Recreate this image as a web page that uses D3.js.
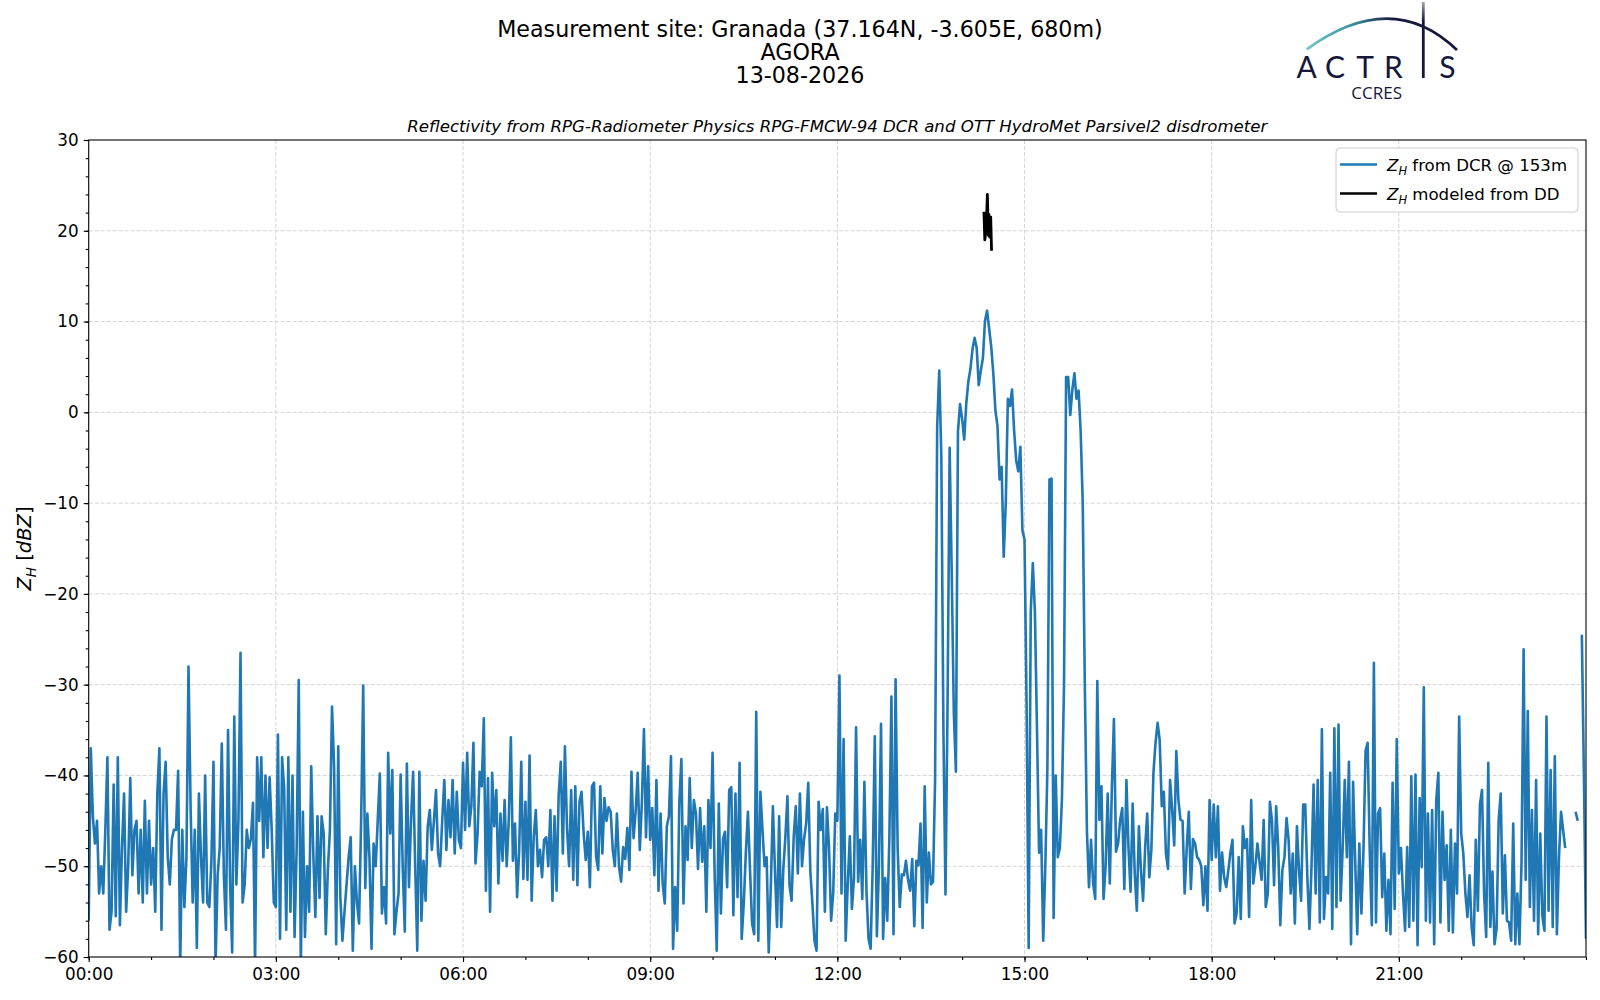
<!DOCTYPE html>
<html>
<head>
<meta charset="utf-8">
<script src="https://cdn.jsdelivr.net/npm/d3@7"></script>
<style>
  body { margin: 0; background: #fff; }
  svg { font-family: "DejaVu Sans", sans-serif; }
</style>
</head>
<body>
<svg width="1600" height="1000"></svg>
<script>
// DCR reflectivity at 153 m, one value every 2 minutes from 00:00 to 24:00 (null = no data)
const stepMin = 2
const dcrValues = [
  -56, -37, -44.5, -47.5, -45, -53, -50, -53, -46, -38,
  -57, -55, -41, -55.5, -38, -56.5, -48, -42, -55, -50,
  -40.3, -51, -46, -45, -53, -46, -54, -42.8, -53, -45,
  -52, -48, -55, -42, -37, -57, -42, -38.5, -49, -52,
  -47, -46, -46, -39.5, -61, -46, -54.5, -49, -28, -43.5,
  -54, -46, -59, -42, -49, -54, -40, -54, -54.5, -49.5,
  -38.5, -61, -51, -48, -36.5, -51, -57, -35, -52, -59.5,
  -33.5, -52, -45, -26.5, -54, -52, -46, -48, -47, -43,
  -61, -38, -45, -38, -49, -40, -48, -40.2, -46, -54,
  -54.5, -35.5, -58, -38, -41.5, -57, -38, -55, -40, -57.8,
  -48, -29.5, -61, -44, -57.8, -50, -55, -39, -48.6, -55.6,
  -44.5, -53.5, -44.5, -46.4, -57.5, -50.4, -46, -32.4, -39, -58.6,
  -36.8, -53.4, -58.2, -55, -52, -49, -46.8, -59.3, -50, -54,
  -56.3, -45, -30.1, -52.4, -44.2, -49, -59.1, -47.5, -50, -44.9,
  -39.8, -55.2, -52.3, -56.3, -37.5, -46.4, -39.4, -57.5, -55, -53,
  -39.9, -50, -57.2, -38.7, -52.3, -44.9, -39.6, -50, -59.3, -39.6,
  -56, -49.4, -53.8, -45.7, -43.8, -48.2, -45, -41.6, -48.6, -50,
  -44.9, -40.5, -48.2, -42.7, -46.8, -40.5, -48.6, -41.8, -47.1, -48,
  -38.6, -46, -37.5, -45.6, -43.4, -36.4, -49.7, -46.4, -39.6, -41.2,
  -33.7, -52.7, -40.3, -55, -39.7, -45.6, -41.6, -51.9, -44.2, -49.4,
  -42.7, -50, -44.9, -35.8, -49.4, -45.3, -53.4, -48.2, -38.5, -51.4,
  -42.9, -51.5, -37.8, -53.8, -46.8, -43.8, -50, -48.2, -51.2, -47.1,
  -46.8, -50, -43.8, -53.8, -44.5, -52.7, -42.1, -38.5, -48.6, -36.8,
  -45.8, -50, -41.6, -51.5, -41.2, -52.1, -42.9, -41.8, -46.4, -49.3,
  -46.2, -52.3, -41.2, -40.8, -49, -50.4, -41.2, -48.6, -42.5, -45,
  -43.5, -44, -48.2, -50, -44.2, -50, -51.7, -47.9, -49.2, -45.8,
  -50.4, -39.6, -46.9, -44, -39.7, -48.2, -43, -34.9, -46.8, -39,
  -47.1, -43.6, -51, -40.5, -52.7, -44.2, -51.9, -54.1, -45.6, -44.5,
  -37.9, -59.1, -52.3, -57.1, -43.1, -38.2, -54.1, -45.6, -49.3, -40.3,
  -48, -42.7, -44.2, -50.3, -43.6, -49.5, -45.6, -55, -42.7, -48,
  -37.5, -51, -59.3, -43.1, -55.2, -47, -46.2, -52.3, -41.6, -41.3,
  -55.4, -42, -53.4, -38.6, -58, -54.1, -48.5, -44, -50.4, -56.3,
  -57.5, -33, -58.2, -41.8, -46, -50, -49, -59.5, -52.3, -43.4,
  -50.5, -56.7, -44.5, -56.7, -50.4, -46.8, -42.3, -52.1, -53.8, -46.8,
  -43.4, -50.8, -42, -50, -47, -45.3, -40.8, -50.5, -54.1, -58.2,
  -59.3, -42.9, -46, -43.7, -55, -43.5, -48, -56, -53, -44.2,
  -45, -29, -53, -36, -58.2, -52, -46.7, -54.7, -51.3, -34.7,
  -51.7, -47.1, -53.6, -40.7, -52.7, -58, -59.1, -50, -35.7, -57.7,
  -50, -34.3, -58, -51.3, -56, -47, -31.3, -57.5, -29.4, -48.1,
  -54.5, -50.9, -51, -49.4, -51.5, -52.7, -49.2, -56.6, -49.4, -49.9,
  -45.3, -56.8, -41.2, -54, -48.5, -52, -51.7, -40.5, -1.6, 4.6,
  -4.9, -35, -53.1, -32, -3.9, -17.7, -33, -39.6, -2.1, 0.9,
  -0.7, -3, 1.0, 3.4, 4.8, 7, 8.2, 7.1, 3, 4.6,
  6, 10.1, 11.2, 9.2, 7.2, 4.3, 0.2, -1.5, -7.4, -6,
  -15.9, -9.9, 1.5, 0.7, 2.5, -2, -5.3, -6.5, -3.8, -13,
  -14, -32.4, -59, -22, -16.6, -22, -35, -48.5, -46, -58.2,
  -50, -39.3, -7.4, -7.3, -55.7, -40, -49, -48, -42.6, -30,
  3.9, 3.9, -0.3, 2.5, 4.3, 1.5, 2.4, -2.1, -10, -30,
  -46, -52.3, -47.1, -51.9, -53.6, -29.6, -44.9, -41.2, -53.6, -50,
  -42, -51.9, -41.4, -33.8, -48.4, -47.5, -44.9, -43.6, -52.5, -40.5,
  -48, -52.8, -43.1, -50.8, -54.9, -45.6, -50.5, -53.8, -48, -44.2,
  -51.2, -48.2, -39.7, -36.4, -34.2, -36.1, -43.4, -41.8, -48.6, -50.3,
  -40.5, -43.8, -47.7, -37.3, -42.7, -44.9, -45, -53, -48, -44,
  -52.5, -47, -47.5, -49, -49.3, -50, -54.3, -50, -54.9, -42.7,
  -49.3, -43.2, -49, -43.4, -52.7, -48.5, -51.2, -52.3, -50.5, -48.5,
  -47.1, -56.3, -55.2, -49, -55.8, -45.6, -48, -47, -55.6, -42.7,
  -51.9, -50, -47.5, -49.5, -51.5, -44.9, -54.5, -53, -42.9, -45,
  -52.1, -43.4, -47.9, -56.5, -50.4, -49, -44.7, -47.1, -53, -48.6,
  -56.3, -45.6, -50.5, -53.8, -43.2, -43.2, -51.2, -56.9, -50.1, -41,
  -53, -40.5, -56.2, -34.9, -55.8, -51.2, -53, -39.7, -56.9, -34.8,
  -54.5, -34.4, -53.8, -48, -40.5, -49, -38.5, -58.6, -40.7, -49.3,
  -57.5, -47.5, -55.2, -48.2, -37.3, -36.4, -48.2, -56.5, -27.6, -56.2,
  -44.2, -43.6, -53.4, -48.6, -57.1, -51.5, -57.5, -40.8, -54.7, -36,
  -50.8, -48, -53, -57.1, -47.9, -56.7, -40.1, -56, -39.9, -58.7,
  -42.5, -50.1, -30.3, -56, -44.2, -56.2, -43.8, -58.6, -42.7, -39.7,
  -56.2, -44, -51.5, -47.7, -57.1, -46, -57.3, -47.5, -53, -33.5,
  -46.4, -48.6, -53, -55.6, -51, -56.7, -58.7, -47.1, -54.9, -43.2,
  -41.6, -53, -57.8, -38.6, -56.7, -50.6, -58.6, -56.9, -44.9, -42,
  -55.2, -48.8, -56, -56.2, -58.2, -45.3, -58.6, -53, -58.6, -49.5,
  -26.1, -51.5, -32.9, -54.5, -43.8, -56, -40.5, -57.5, -46.4, -55.4,
  -57.1, -33.5, -54.9, -39.4, -56.7, -37.9, -57.5, -49, -44, -46,
  -48, null, null, null, null, -44, -45, null, -24.5, -40, -58
]

// Reflectivity modeled from the disdrometer (minutes since 00:00)
const ddTimes = [861, 861.8, 863, 864.3, 865.2, 865.8, 866.6, 867.5, 868.3]
const ddValues = [22.1, 19.0, 20.0, 24.0, 19.5, 21.8, 19.3, 21.5, 17.8]

const xTickMinutes = [0, 180, 360, 540, 720, 900, 1080, 1260]
const xTickLabels = ['00:00', '03:00', '06:00', '09:00', '12:00', '15:00', '18:00', '21:00']
const xMinorMinutes = d3.range(0, 1441, 60)
const yTicks = [-60, -50, -40, -30, -20, -10, 0, 10, 20, 30]
const yMinorTicks = d3.range(-60, 31, 2)
const legendLabels = ['from DCR @ 153m', 'modeled from DD']
const seriesColors = ['#1f77b4', '#000000']

const titleLines = ['Measurement site: Granada (37.164N, -3.605E, 680m)', 'AGORA', '13-08-2026']
const subTitle = 'Reflectivity from RPG-Radiometer Physics RPG-FMCW-94 DCR and OTT HydroMet Parsivel2 disdrometer'

const plot = {left: 88.7, right: 1586, top: 140, bottom: 957}

const svg = d3.select('svg')

const xScale = d3.scaleLinear().domain([0, 1440]).range([plot.left, plot.right])
const yScale = d3.scaleLinear().domain([-60, 30]).range([plot.bottom, plot.top])

const dcr = dcrValues.map((v, i) => ({t: i * stepMin, v: v}))
const dd = ddTimes.map((t, i) => ({t: t, v: ddValues[i]}))

svg.append('defs').append('clipPath').attr('id', 'plotclip')
  .append('rect')
  .attr('x', plot.left).attr('y', plot.top)
  .attr('width', plot.right - plot.left).attr('height', plot.bottom - plot.top)

// grid
const grid = svg.append('g')
grid.selectAll('.vgrid').data(xTickMinutes.slice(1)).enter().append('line')
  .attr('x1', d => xScale(d)).attr('x2', d => xScale(d))
  .attr('y1', plot.top).attr('y2', plot.bottom)
  .attr('stroke', '#d4d4d4').attr('stroke-width', 1).attr('stroke-dasharray', '4,2')
grid.selectAll('.hgrid').data(yTicks.slice(1, -1)).enter().append('line')
  .attr('y1', d => yScale(d)).attr('y2', d => yScale(d))
  .attr('x1', plot.left).attr('x2', plot.right)
  .attr('stroke', '#d4d4d4').attr('stroke-width', 1).attr('stroke-dasharray', '4,2')

// series
const line = d3.line()
  .defined(d => d.v !== null)
  .x(d => xScale(d.t))
  .y(d => yScale(d.v))

const lines = svg.append('g').attr('clip-path', 'url(#plotclip)')
lines.append('path').datum(dcr)
  .attr('fill', 'none').attr('stroke', seriesColors[0])
  .attr('stroke-width', 2.6).attr('stroke-linejoin', 'round')
  .attr('d', line)
lines.append('path').datum(dd)
  .attr('fill', 'none').attr('stroke', seriesColors[1])
  .attr('stroke-width', 2.8).attr('stroke-linejoin', 'round')
  .attr('d', line)

// axes
const minus = d => d < 0 ? '\u2212' + Math.abs(d) : String(d)

const xAxis = d3.axisBottom(xScale)
  .tickValues(xTickMinutes)
  .tickFormat((d, i) => xTickLabels[i])
  .tickSize(5).tickPadding(6)
svg.append('g')
  .attr('transform', `translate(0,${plot.bottom})`)
  .call(xAxis)
svg.append('g')
  .attr('transform', `translate(0,${plot.bottom})`)
  .call(d3.axisBottom(xScale).tickValues(xMinorMinutes).tickFormat('').tickSize(3))

const yAxis = d3.axisLeft(yScale)
  .tickValues(yTicks)
  .tickFormat(minus)
  .tickSize(5).tickPadding(5)
svg.append('g')
  .attr('transform', `translate(${plot.left},0)`)
  .call(yAxis)
svg.append('g')
  .attr('transform', `translate(${plot.left},0)`)
  .call(d3.axisLeft(yScale).tickValues(yMinorTicks).tickFormat('').tickSize(3))

svg.selectAll('.tick text')
  .attr('font-family', '"DejaVu Sans", sans-serif')
  .attr('font-size', '16.8px')
  .attr('fill', '#000')
svg.selectAll('.tick line').attr('stroke', '#000').attr('stroke-width', 1.1)
svg.selectAll('.domain').remove()

// frame
svg.append('rect')
  .attr('x', plot.left).attr('y', plot.top)
  .attr('width', plot.right - plot.left).attr('height', plot.bottom - plot.top)
  .attr('fill', 'none').attr('stroke', '#000').attr('stroke-width', 1.1)

// y label
const ylab = svg.append('text')
  .attr('transform', `translate(31,${(plot.top + plot.bottom) / 2}) rotate(-90)`)
  .attr('text-anchor', 'middle')
  .attr('font-size', '19.5px')
ylab.append('tspan').attr('font-style', 'italic').text('Z')
ylab.append('tspan').attr('font-style', 'italic').attr('font-size', '13.5px').attr('dy', 4.5).text('H')
ylab.append('tspan').attr('dy', -4.5).text(' [')
ylab.append('tspan').attr('font-style', 'italic').text('dBZ')
ylab.append('tspan').text(']')

// titles
svg.append('g').selectAll('text').data(titleLines).enter().append('text')
  .attr('x', 800).attr('y', (d, i) => 36.5 + i * 23)
  .attr('text-anchor', 'middle')
  .attr('font-size', '22.2px')
  .text(d => d)

svg.append('text')
  .attr('x', (plot.left + plot.right) / 2).attr('y', 132)
  .attr('text-anchor', 'middle')
  .attr('font-size', '16.6px')
  .attr('font-style', 'italic')
  .text(subTitle)

// legend
const legend = svg.append('g').attr('transform', 'translate(1336,148)')
legend.append('rect')
  .attr('width', 242).attr('height', 64).attr('rx', 4)
  .attr('fill', '#fff').attr('fill-opacity', 0.85)
  .attr('stroke', '#cccccc').attr('stroke-width', 1)
legendLabels.forEach((lab, i) => {
  const row = legend.append('g').attr('transform', `translate(0,${16.5 + i * 29})`)
  row.append('line').attr('x1', 4).attr('x2', 41)
    .attr('stroke', seriesColors[i]).attr('stroke-width', 2.6)
  const t = row.append('text').attr('x', 51).attr('y', 6).attr('font-size', '16.6px')
  t.append('tspan').attr('font-style', 'italic').text('Z')
  t.append('tspan').attr('font-style', 'italic').attr('font-size', '11.5px').attr('dy', 4).text('H')
  t.append('tspan').attr('dy', -4).text(' ' + lab)
})

// ACTRIS logo
const defs = svg.select('defs')
const grad = defs.append('linearGradient').attr('id', 'arcgrad')
  .attr('gradientUnits', 'userSpaceOnUse')
  .attr('x1', 1306).attr('x2', 1456).attr('y1', 0).attr('y2', 0)
grad.append('stop').attr('offset', '0%').attr('stop-color', '#73c9c3')
grad.append('stop').attr('offset', '30%').attr('stop-color', '#3a95a0')
grad.append('stop').attr('offset', '58%').attr('stop-color', '#15183c')
grad.append('stop').attr('offset', '100%').attr('stop-color', '#15183c')
const igrad = defs.append('linearGradient').attr('id', 'igrad')
  .attr('gradientUnits', 'userSpaceOnUse')
  .attr('x1', 0).attr('x2', 0).attr('y1', 2).attr('y2', 78)
igrad.append('stop').attr('offset', '0%').attr('stop-color', '#15183c').attr('stop-opacity', 0.4)
igrad.append('stop').attr('offset', '25%').attr('stop-color', '#15183c').attr('stop-opacity', 1)
igrad.append('stop').attr('offset', '100%').attr('stop-color', '#15183c')

const logo = svg.append('g')
logo.append('path')
  .attr('d', 'M1306.7,49.3 Q1392,-12.5 1457,50')
  .attr('fill', 'none').attr('stroke', 'url(#arcgrad)').attr('stroke-width', 2.8)
logo.append('line')
  .attr('x1', 1423.3).attr('x2', 1423.3).attr('y1', 2).attr('y2', 78)
  .attr('stroke', 'url(#igrad)').attr('stroke-width', 2.8)
const logoLetters = ['A', 'C', 'T', 'R', 'S']
const logoCenters = [1306.7, 1335, 1365, 1393.3, 1447.5]
logo.selectAll('.lt').data(logoLetters).enter().append('text')
  .attr('x', (d, i) => logoCenters[i]).attr('y', 78)
  .attr('text-anchor', 'middle')
  .attr('font-family', 'Lato, sans-serif').attr('font-size', '30px')
  .attr('fill', '#15183c')
  .text(d => d)
logo.append('text')
  .attr('x', 1376.7).attr('y', 99)
  .attr('text-anchor', 'middle')
  .attr('font-family', '"Open Sans", sans-serif').attr('font-size', '17px')
  .attr('fill', '#15183c')
  .text('CCRES')
</script>
</body>
</html>
